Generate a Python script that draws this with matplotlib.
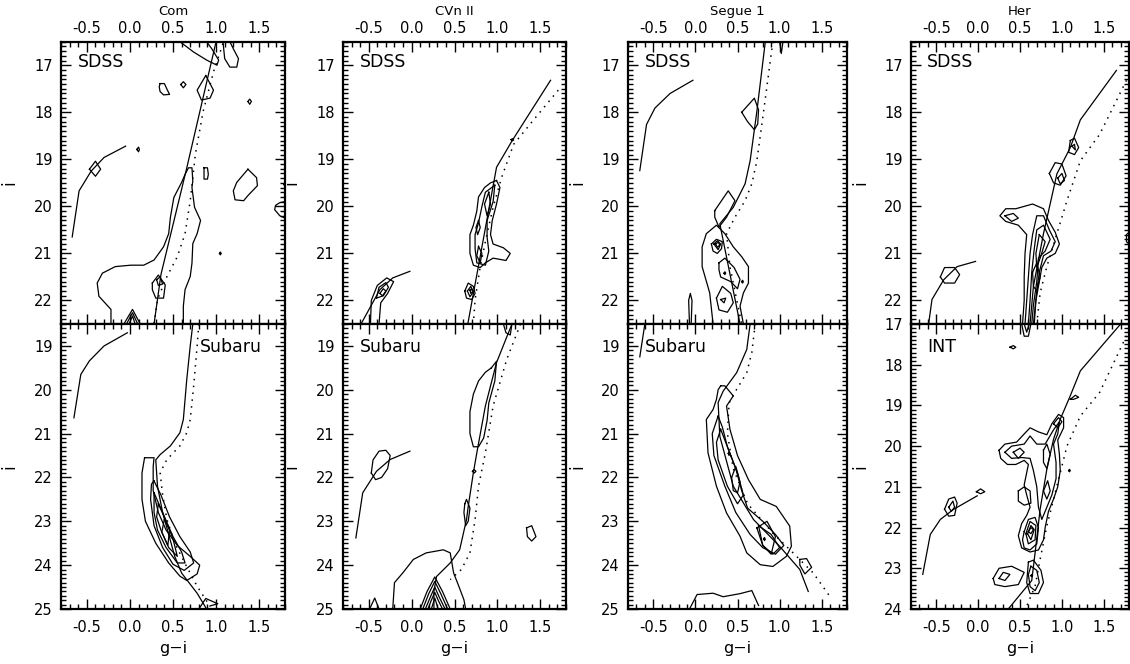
import matplotlib
matplotlib.use("Agg")
import matplotlib.pyplot as plt
from matplotlib.ticker import MultipleLocator, FormatStrFormatter

# ---------------------------------------------------------------- data
objects = ["Com", "CVn II", "Segue 1", "Her"]
top_labels = ["SDSS", "SDSS", "SDSS", "SDSS"]
bottom_labels = ["Subaru", "Subaru", "Subaru", "INT"]
x_range = (-0.8, 1.8)
top_y_range = (22.5, 16.5)
bottom_y_ranges = [(25.0, 18.5), (25.0, 18.5), (25.0, 18.5), (24.0, 17.0)]

# ---- Com, SDSS
com_sdss_solid_x = [1.00, 0.66, 0.36, 0.28]
com_sdss_solid_y = [16.5, 19.18, 21.45, 22.5]
com_sdss_dot_x = [1.08, 0.97, 0.85, 0.76, 0.70, 0.64, 0.55, 0.43, 0.32, 0.28]
com_sdss_dot_y = [16.54, 17.14, 17.98, 18.89, 19.88, 20.58, 21.07, 21.49, 21.98, 22.5]
com_sdss_hb_x = [-0.05, -0.30, -0.45, -0.59, -0.67]
com_sdss_hb_y = [18.72, 18.96, 19.25, 19.67, 20.65]
com_sdss_closed = [
    [(0.35, 17.39), (0.40, 17.39), (0.43, 17.51), (0.46, 17.62), (0.39, 17.63), (0.35, 17.56), (0.34, 17.46)],
    [(0.59, 17.41), (0.62, 17.35), (0.65, 17.41), (0.62, 17.48)],
    [(0.88, 17.22), (0.97, 17.53), (0.93, 17.70), (0.83, 17.74), (0.78, 17.53)],
    [(1.37, 17.77), (1.39, 17.72), (1.41, 17.77), (1.39, 17.83)],
    [(0.08, 18.79), (0.10, 18.74), (0.11, 18.79), (0.10, 18.84)],
    [(-0.47, 19.21), (-0.40, 19.04), (-0.34, 19.21), (-0.40, 19.36)],
    [(0.86, 19.18), (0.90, 19.18), (0.91, 19.32), (0.90, 19.42), (0.86, 19.42)],
    [(1.37, 19.21), (1.47, 19.39), (1.48, 19.56), (1.37, 19.77), (1.32, 19.88), (1.22, 19.86), (1.20, 19.67), (1.24, 19.49)],
    [(1.04, 21.0), (1.05, 20.97), (1.06, 21.0), (1.05, 21.03)],
    [(0.26, 21.63), (0.33, 21.46), (0.41, 21.67), (0.39, 21.95), (0.30, 21.95), (0.26, 21.77)],
    [(0.31, 21.56), (0.35, 21.50), (0.38, 21.65), (0.33, 21.68)],
]
com_sdss_open = [
    [(0.58, 16.5), (0.74, 16.72), (0.89, 16.89), (1.01, 17.0), (1.03, 16.89), (0.95, 16.65), (0.89, 16.5)],
    [(1.08, 16.5), (1.10, 16.86), (1.16, 17.04), (1.24, 17.04), (1.26, 16.86), (1.20, 16.65), (1.16, 16.5)],
    [(1.8, 19.9), (1.74, 19.92), (1.69, 19.98), (1.68, 20.07), (1.74, 20.2), (1.8, 20.25)],
    [(-0.22, 22.5), (-0.22, 22.19), (-0.36, 21.91), (-0.38, 21.63), (-0.32, 21.42), (-0.17, 21.28), (0.01, 21.25),
     (0.16, 21.25), (0.28, 21.14), (0.39, 20.86), (0.45, 20.58), (0.47, 20.23), (0.51, 19.81), (0.60, 19.49),
     (0.64, 19.32), (0.68, 19.18), (0.72, 19.18), (0.73, 19.46), (0.72, 19.60), (0.75, 20.02), (0.82, 20.30),
     (0.78, 20.58), (0.73, 20.79), (0.72, 21.21), (0.70, 21.49), (0.64, 21.77), (0.62, 22.12), (0.62, 22.5)],
    [(-0.07, 22.5), (0.03, 22.19), (0.12, 22.5)],
    [(-0.04, 22.5), (0.03, 22.26), (0.09, 22.5)],
    [(-0.01, 22.5), (0.03, 22.33), (0.06, 22.5)],
]

# ---- Com, Subaru
com_sub_solid_x = [0.73, 0.70, 0.66, 0.62, 0.58, 0.47, 0.35, 0.30, 0.32, 0.38, 0.45, 0.52, 0.60, 0.78, 0.89]
com_sub_solid_y = [18.5, 19.0, 19.76, 20.68, 20.98, 21.28, 21.48, 21.6, 22.2, 22.8, 23.3, 23.8, 24.18, 24.64, 25.0]
com_sub_dot_x = [0.80, 0.78, 0.74, 0.70, 0.66, 0.58, 0.43, 0.35, 0.38, 0.43, 0.52, 0.65, 0.78, 0.93]
com_sub_dot_y = [18.5, 19.0, 19.91, 20.68, 20.98, 21.28, 21.59, 21.89, 22.4, 22.96, 23.5, 24.0, 24.48, 24.94]
com_sub_hb_x = [-0.03, -0.30, -0.47, -0.57, -0.65]
com_sub_hb_y = [18.7, 19.0, 19.34, 19.65, 20.64]
com_sub_closed = [
    [(0.17, 21.55), (0.28, 21.55), (0.27, 21.75), (0.27, 22.3), (0.33, 22.8), (0.42, 23.2), (0.55, 23.55),
     (0.70, 23.8), (0.81, 24.0), (0.78, 24.2), (0.66, 24.35), (0.58, 24.25), (0.45, 23.95), (0.30, 23.5),
     (0.18, 23.0), (0.14, 22.5), (0.14, 21.9)],
    [(0.28, 22.08), (0.36, 22.4), (0.46, 22.9), (0.58, 23.35), (0.70, 23.7), (0.74, 23.95), (0.63, 24.12),
     (0.50, 23.98), (0.38, 23.6), (0.28, 23.1), (0.24, 22.5), (0.25, 22.15)],
    [(0.28, 22.35), (0.38, 22.8), (0.50, 23.35), (0.60, 23.7), (0.64, 23.95), (0.55, 23.95), (0.42, 23.6),
     (0.32, 23.2), (0.28, 22.8)],
    [(0.33, 22.6), (0.42, 23.0), (0.50, 23.4), (0.55, 23.8), (0.45, 23.6), (0.36, 23.2), (0.31, 22.9)],
    [(0.40, 22.95), (0.46, 23.2), (0.44, 23.55), (0.37, 23.25)],
]
com_sub_open = [
    [(0.80, 25.0), (0.88, 24.76), (1.02, 24.88), (0.93, 24.93)],
]

# ---- CVn II, SDSS
cvn_sdss_solid_x = [1.62, 1.17, 0.99, 0.655]
cvn_sdss_solid_y = [17.32, 18.61, 19.17, 22.5]
cvn_sdss_dot_x = [1.71, 1.45, 1.19, 1.05, 0.95, 0.88, 0.80, 0.74, 0.72]
cvn_sdss_dot_y = [17.53, 18.1, 18.68, 19.38, 20.02, 20.58, 21.28, 21.98, 22.5]
cvn_sdss_hb_x = [-0.59, -0.37, -0.22, -0.02]
cvn_sdss_hb_y = [22.5, 21.77, 21.52, 21.38]
cvn_sdss_closed = [
    [(0.99, 19.45), (1.03, 19.6), (0.99, 19.95), (0.94, 20.3), (0.92, 20.6), (0.95, 20.8), (1.07, 20.88),
     (1.15, 21.0), (1.10, 21.15), (0.95, 21.1), (0.86, 21.2), (0.80, 21.3), (0.72, 21.25), (0.68, 21.0),
     (0.68, 20.6), (0.72, 20.4), (0.76, 20.1), (0.78, 19.8), (0.85, 19.6), (0.92, 19.5)],
    [(0.97, 19.55), (0.95, 19.9), (0.88, 20.3), (0.88, 20.65), (0.90, 20.95), (0.86, 21.25), (0.76, 21.2),
     (0.74, 20.9), (0.74, 20.6), (0.78, 20.35), (0.82, 20.0), (0.86, 19.7)],
    [(0.90, 19.7), (0.92, 19.95), (0.88, 20.2), (0.85, 19.95)],
    [(0.78, 20.85), (0.82, 21.0), (0.80, 21.2), (0.76, 21.05)],
    [(0.78, 20.3), (0.80, 20.45), (0.77, 20.6), (0.75, 20.45)],
    [(1.16, 18.58), (1.18, 18.56), (1.19, 18.59), (1.17, 18.61)],
    [(0.62, 21.8), (0.66, 21.63), (0.72, 21.7), (0.74, 21.85), (0.70, 21.98), (0.64, 21.95)],
    [(0.65, 21.8), (0.69, 21.7), (0.72, 21.82), (0.68, 21.92)],
    [(0.68, 21.78), (0.70, 21.75), (0.71, 21.82), (0.69, 21.85)],
    [(-0.41, 21.95), (-0.38, 21.72), (-0.30, 21.62), (-0.27, 21.72), (-0.33, 21.9)],
    [(-0.37, 21.85), (-0.33, 21.75), (-0.30, 21.8), (-0.34, 21.9)],
]
cvn_sdss_open = [
    [(-0.48, 22.5), (-0.47, 22.0), (-0.40, 21.68), (-0.29, 21.52), (-0.21, 21.6), (-0.28, 21.85),
     (-0.36, 22.05), (-0.38, 22.5)],
]

# ---- CVn II, Subaru
cvn_sub_solid_x = [1.17, 0.99, 0.86, 0.76, 0.72, 0.66, 0.64, 0.56, 0.45, 0.29, 0.26, 0.26]
cvn_sub_solid_y = [18.5, 19.38, 20.37, 21.44, 21.89, 22.66, 22.96, 23.65, 23.95, 24.26, 24.6, 25.0]
cvn_sub_dot_x = [1.27, 1.11, 0.95, 0.86, 0.78, 0.74, 0.68, 0.58, 0.45]
cvn_sub_dot_y = [18.5, 19.3, 20.37, 21.44, 22.2, 22.96, 23.72, 24.1, 24.33]
cvn_sub_hb_x = [-0.65, -0.57, -0.41, -0.25, -0.02]
cvn_sub_hb_y = [23.38, 22.35, 21.86, 21.59, 21.4]
cvn_sub_closed = [
    [(0.93, 19.5), (0.99, 19.35), (0.97, 19.8), (0.90, 20.3), (0.88, 20.7), (0.84, 21.1), (0.78, 21.3),
     (0.72, 21.3), (0.68, 21.0), (0.68, 20.5), (0.72, 20.1), (0.78, 19.8), (0.86, 19.6)],
    [(0.71, 21.86), (0.73, 21.82), (0.75, 21.86), (0.73, 21.9)],
    [(0.62, 22.6), (0.64, 22.5), (0.68, 22.7), (0.66, 23.0), (0.63, 23.1), (0.61, 22.8)],
    [(-0.47, 21.9), (-0.45, 21.6), (-0.38, 21.4), (-0.30, 21.38), (-0.25, 21.5), (-0.28, 21.8), (-0.35, 22.0),
     (-0.42, 22.05)],
    [(1.34, 23.15), (1.40, 23.1), (1.45, 23.35), (1.40, 23.45), (1.35, 23.35)],
]
cvn_sub_open = [
    [(1.07, 18.5), (1.10, 18.7), (1.15, 18.75), (1.17, 18.5)],
    [(-0.49, 25.0), (-0.43, 24.75), (-0.38, 25.0)],
    [(-0.22, 25.0), (-0.20, 24.4), (-0.10, 24.17), (0.02, 23.87), (0.17, 23.72), (0.37, 23.65), (0.45, 23.72),
     (0.49, 24.18), (0.55, 24.48), (0.61, 24.79), (0.63, 25.0)],
    [(0.10, 25.0), (0.18, 24.6), (0.27, 24.27), (0.36, 24.6), (0.45, 25.0)],
    [(0.13, 25.0), (0.20, 24.65), (0.27, 24.37), (0.34, 24.65), (0.42, 25.0)],
    [(0.16, 25.0), (0.22, 24.72), (0.27, 24.5), (0.32, 24.72), (0.39, 25.0)],
    [(0.19, 25.0), (0.23, 24.8), (0.27, 24.62), (0.31, 24.8), (0.36, 25.0)],
    [(0.23, 25.0), (0.27, 24.75), (0.31, 25.0)],
]

# ---- Segue 1, SDSS
seg_sdss_solid_x = [0.83, 0.73, 0.65, 0.59, 0.45, 0.29, 0.53]
seg_sdss_solid_y = [16.5, 17.98, 19.03, 19.52, 20.02, 20.37, 22.5]
seg_sdss_dot_x = [0.92, 0.81, 0.73, 0.67, 0.59, 0.47, 0.37, 0.41, 0.49, 0.55]
seg_sdss_dot_y = [16.5, 17.98, 19.03, 19.52, 19.88, 20.23, 20.58, 21.28, 21.98, 22.5]
seg_sdss_hb_x = [-0.03, -0.30, -0.48, -0.58, -0.66]
seg_sdss_hb_y = [17.32, 17.6, 17.91, 18.26, 19.24]
seg_sdss_closed = [
    [(0.55, 18.0), (0.70, 17.7), (0.75, 17.95), (0.74, 18.25), (0.70, 18.37), (0.62, 18.2)],
    [(0.23, 20.09), (0.39, 19.67), (0.47, 19.88), (0.37, 20.23), (0.28, 20.44), (0.23, 20.23)],
    [(0.19, 20.8), (0.25, 20.7), (0.32, 20.75), (0.31, 20.9), (0.26, 21.0), (0.21, 20.95)],
    [(0.22, 20.8), (0.26, 20.73), (0.30, 20.8), (0.27, 20.92)],
    [(0.24, 20.8), (0.27, 20.76), (0.29, 20.82), (0.26, 20.87)],
    [(0.28, 21.2), (0.35, 21.1), (0.46, 21.3), (0.53, 21.55), (0.50, 21.75), (0.42, 21.6), (0.30, 21.5),
     (0.28, 21.35)],
    [(0.25, 21.95), (0.32, 21.7), (0.42, 21.85), (0.45, 22.05), (0.38, 22.25), (0.28, 22.2)],
    [(0.30, 21.98), (0.36, 21.95), (0.34, 22.05)],
    [(0.34, 21.42), (0.35, 21.39), (0.36, 21.42), (0.35, 21.45)],
    [(0.55, 21.6), (0.56, 21.57), (0.57, 21.6), (0.56, 21.63)],
]
seg_sdss_open = [
    [(1.00, 16.5), (1.02, 16.75), (1.04, 16.5)],
    [(0.21, 22.5), (0.17, 21.84), (0.08, 21.28), (0.08, 20.86), (0.13, 20.58), (0.25, 20.40), (0.35, 20.58),
     (0.45, 20.86), (0.55, 21.07), (0.63, 21.28), (0.63, 21.63), (0.57, 21.84), (0.53, 22.12), (0.57, 22.5)],
    [(-0.07, 22.5), (-0.08, 22.0), (-0.06, 21.85), (-0.04, 22.0), (-0.05, 22.5)],
]

# ---- Segue 1, Subaru
seg_sub_solid_x = [0.65, 0.61, 0.49, 0.33, 0.27, 0.29, 0.45, 0.69, 1.00, 1.24, 1.34]
seg_sub_solid_y = [18.5, 19.08, 19.61, 20.03, 20.29, 21.06, 22.2, 22.96, 23.57, 24.1, 24.6]
seg_sub_dot_x = [0.71, 0.67, 0.61, 0.49, 0.40, 0.38, 0.45, 0.62, 0.92, 1.16, 1.40, 1.61]
seg_sub_dot_y = [18.5, 19.15, 19.61, 19.99, 20.3, 21.0, 21.8, 22.6, 23.27, 23.72, 24.18, 24.75]
seg_sub_hb_x = [-0.60, -0.66]
seg_sub_hb_y = [18.5, 19.25]
seg_sub_closed = [
    [(0.30, 19.91), (0.35, 19.91), (0.45, 20.14), (0.37, 20.37), (0.41, 20.9), (0.50, 21.5), (0.63, 22.05),
     (0.77, 22.5), (0.96, 22.66), (1.12, 23.11), (1.14, 23.57), (1.08, 23.8), (0.92, 24.03), (0.77, 23.99),
     (0.61, 23.72), (0.53, 23.34), (0.37, 22.81), (0.25, 22.2), (0.15, 21.44), (0.13, 20.68), (0.21, 20.45),
     (0.25, 20.22), (0.27, 20.0)],
    [(0.27, 20.6), (0.32, 20.85), (0.38, 21.3), (0.48, 21.8), (0.55, 22.3), (0.62, 22.7), (0.80, 23.0),
     (0.95, 23.3), (1.05, 23.55), (0.95, 23.75), (0.80, 23.6), (0.65, 23.3), (0.48, 22.8), (0.35, 22.2),
     (0.22, 21.5), (0.20, 21.0)],
    [(0.30, 20.9), (0.40, 21.4), (0.50, 21.9), (0.57, 22.4), (0.50, 22.6), (0.38, 22.2), (0.27, 21.6),
     (0.25, 21.2)],
    [(0.75, 23.1), (0.90, 23.3), (1.00, 23.6), (0.92, 23.75), (0.80, 23.55)],
    [(0.43, 22.0), (0.48, 21.75), (0.53, 22.1), (0.50, 22.35), (0.45, 22.3)],
    [(0.73, 23.15), (0.85, 23.0), (0.95, 23.35), (0.90, 23.75), (0.80, 23.55)],
    [(0.39, 21.45), (0.40, 21.42), (0.41, 21.46), (0.40, 21.5)],
    [(0.81, 23.4), (0.82, 23.37), (0.83, 23.41), (0.82, 23.44)],
    [(1.24, 23.87), (1.32, 23.85), (1.38, 24.05), (1.30, 24.2), (1.24, 24.0)],
]
seg_sub_open = [
    [(-0.07, 25.0), (0.02, 24.67), (0.21, 24.64), (0.33, 24.72), (0.53, 24.65), (0.67, 24.58), (0.75, 24.92)],
]

# ---- Her, SDSS
her_sdss_solid_x = [1.65, 1.22, 1.10, 0.94, 0.78, 0.66, 0.62]
her_sdss_solid_y = [17.11, 18.16, 18.75, 19.31, 20.58, 21.7, 22.5]
her_sdss_dot_x = [1.77, 1.45, 1.22, 1.06, 0.94, 0.82, 0.74, 0.70]
her_sdss_dot_y = [17.32, 18.47, 19.03, 19.88, 20.58, 21.28, 21.84, 22.5]
her_sdss_hb_x = [-0.59, -0.55, -0.41, -0.25, -0.03]
her_sdss_hb_y = [22.5, 21.98, 21.56, 21.28, 21.17]
her_sdss_closed = [
    [(1.10, 18.6), (1.15, 18.55), (1.20, 18.75), (1.15, 18.9), (1.08, 18.85)],
    [(1.12, 18.72), (1.15, 18.68), (1.16, 18.8)],
    [(0.85, 19.3), (0.92, 19.07), (1.00, 19.1), (1.05, 19.35), (0.98, 19.55), (0.90, 19.5)],
    [(0.95, 19.4), (1.00, 19.3), (1.03, 19.45), (0.98, 19.52)],
    [(0.32, 20.2), (0.42, 20.15), (0.48, 20.25), (0.40, 20.32)],
    [(0.73, 20.6), (0.80, 20.75), (0.75, 21.05), (0.70, 21.3), (0.69, 21.0)],
    [(0.65, 21.4), (0.70, 21.2), (0.74, 21.5), (0.70, 21.8), (0.66, 21.7)],
    [(-0.45, 21.5), (-0.40, 21.3), (-0.28, 21.3), (-0.22, 21.45), (-0.28, 21.63), (-0.40, 21.63)],
]
her_sdss_open = [
    [(0.53, 22.5), (0.55, 22.0), (0.55, 21.5), (0.56, 21.0), (0.58, 20.6), (0.48, 20.4), (0.33, 20.32),
     (0.26, 20.2), (0.33, 20.05), (0.45, 20.05), (0.55, 20.0), (0.65, 19.95), (0.78, 20.05), (0.84, 20.3),
     (0.92, 20.55), (0.97, 20.8), (0.92, 21.0), (0.82, 21.1), (0.76, 21.3), (0.72, 21.7), (0.69, 22.0),
     (0.67, 22.5)],
    [(0.56, 22.5), (0.58, 22.0), (0.60, 21.5), (0.62, 21.0), (0.65, 20.6), (0.70, 20.2), (0.78, 20.2),
     (0.85, 20.5), (0.92, 20.75), (0.87, 20.95), (0.78, 21.05), (0.73, 21.4), (0.70, 21.8), (0.66, 22.5)],
    [(0.60, 22.5), (0.62, 22.0), (0.64, 21.4), (0.67, 20.9), (0.70, 20.5), (0.78, 20.4), (0.86, 20.7),
     (0.80, 20.95), (0.72, 21.1), (0.70, 21.6), (0.66, 22.1), (0.64, 22.5)],
    [(1.8, 20.55), (1.77, 20.6), (1.77, 20.75), (1.8, 20.8)],
]

# ---- Her, INT
her_int_solid_x = [1.70, 1.65, 1.22, 1.10, 0.98, 0.90, 0.82, 0.74, 0.68, 0.64, 0.52, 0.36]
her_int_solid_y = [17.0, 17.12, 18.15, 18.76, 19.34, 19.83, 20.57, 21.55, 22.62, 23.3, 23.6, 24.0]
her_int_dot_x = [1.77, 1.45, 1.22, 1.06, 0.94, 0.82, 0.74, 0.68, 0.58]
her_int_dot_y = [17.29, 18.68, 19.26, 20.0, 20.98, 21.96, 22.78, 23.44, 23.93]
her_int_hb_x = [-0.66, -0.57, -0.45, -0.29, -0.01]
her_int_hb_y = [23.15, 22.17, 21.8, 21.55, 21.22]
her_int_closed = [
    [(0.38, 17.57), (0.42, 17.53), (0.45, 17.57), (0.42, 17.61)],
    [(1.10, 18.85), (1.16, 18.75), (1.20, 18.8), (1.14, 18.85)],
    [(1.08, 20.6), (1.09, 20.57), (1.10, 20.6), (1.09, 20.63)],
    [(0.25, 20.1), (0.32, 19.95), (0.46, 19.9), (0.55, 19.7), (0.62, 19.55), (0.72, 19.65), (0.82, 19.72),
     (0.88, 19.45), (0.96, 19.22), (1.02, 19.3), (1.02, 19.55), (0.95, 19.85), (0.97, 20.2), (0.98, 20.6),
     (0.95, 21.0), (0.90, 21.3), (0.84, 21.6), (0.80, 22.0), (0.78, 22.3), (0.72, 22.55), (0.62, 22.6),
     (0.52, 22.5), (0.48, 22.2), (0.52, 21.9), (0.58, 21.7), (0.62, 21.5), (0.58, 21.2), (0.55, 20.95),
     (0.58, 20.65), (0.60, 20.45), (0.55, 20.35), (0.45, 20.45), (0.35, 20.45), (0.27, 20.3)],
    [(0.32, 20.15), (0.40, 20.0), (0.55, 19.95), (0.62, 19.75), (0.70, 19.95), (0.80, 19.95), (0.90, 19.6),
     (0.97, 19.4), (0.95, 19.7), (0.90, 19.95), (0.93, 20.4), (0.93, 20.8), (0.88, 21.2), (0.82, 21.5),
     (0.76, 21.8), (0.72, 21.5), (0.70, 21.0), (0.66, 20.6), (0.62, 20.3), (0.52, 20.28), (0.40, 20.3)],
    [(0.42, 20.15), (0.50, 20.05), (0.55, 20.15), (0.48, 20.3)],
    [(0.78, 20.1), (0.82, 19.95), (0.86, 20.2), (0.82, 20.55), (0.78, 20.4)],
    [(0.78, 21.1), (0.83, 20.85), (0.86, 21.1), (0.82, 21.3)],
    [(0.90, 19.45), (0.96, 19.3), (1.00, 19.4), (0.95, 19.55)],
    [(0.48, 21.1), (0.55, 21.0), (0.62, 21.1), (0.63, 21.4), (0.55, 21.45), (0.48, 21.35)],
    [(0.55, 22.1), (0.60, 21.8), (0.68, 21.75), (0.72, 22.0), (0.70, 22.4), (0.62, 22.55), (0.55, 22.5),
     (0.53, 22.3)],
    [(0.57, 22.15), (0.62, 21.85), (0.69, 21.95), (0.68, 22.3), (0.60, 22.4)],
    [(0.59, 22.15), (0.63, 21.95), (0.67, 22.05), (0.63, 22.3)],
    [(0.60, 22.1), (0.63, 22.0), (0.66, 22.05), (0.63, 22.15)],
    [(0.18, 23.25), (0.25, 23.0), (0.40, 22.95), (0.50, 23.05), (0.55, 23.1), (0.48, 23.4), (0.32, 23.45),
     (0.20, 23.4)],
    [(0.25, 23.25), (0.30, 23.1), (0.38, 23.15), (0.32, 23.3)],
    [(0.60, 22.85), (0.66, 22.8), (0.75, 23.05), (0.78, 23.35), (0.72, 23.62), (0.62, 23.62), (0.58, 23.35)],
    [(0.63, 22.95), (0.70, 23.05), (0.73, 23.35), (0.68, 23.55), (0.62, 23.45), (0.60, 23.15)],
    [(0.63, 23.18), (0.64, 23.15), (0.65, 23.18), (0.64, 23.21)],
    [(-0.40, 21.55), (-0.35, 21.3), (-0.28, 21.25), (-0.25, 21.4), (-0.28, 21.7), (-0.35, 21.72)],
    [(-0.35, 21.5), (-0.30, 21.35), (-0.28, 21.5), (-0.32, 21.6)],
    [(-0.02, 21.12), (0.03, 21.05), (0.08, 21.12), (0.03, 21.17)],
]
her_int_open = [
    [(0.52, 17.0), (0.55, 17.3), (0.60, 17.3), (0.63, 17.0)],
    [(0.55, 17.0), (0.58, 17.2), (0.61, 17.0)],
]

# ---------------------------------------------------------------- figure
plt.rcParams["font.family"] = ["DejaVu Sans"]
fig = plt.figure(figsize=(11.3, 6.64), dpi=100)

col_left = [61, 343, 628, 911]
col_width = [224, 223, 219, 218]
W, H = 1130.0, 664.0
top_row = (41.7, 324.0)
bot_row = (324.0, 609.0)

panels_top = [
    (com_sdss_solid_x, com_sdss_solid_y, com_sdss_dot_x, com_sdss_dot_y, com_sdss_hb_x, com_sdss_hb_y,
     com_sdss_closed, com_sdss_open),
    (cvn_sdss_solid_x, cvn_sdss_solid_y, cvn_sdss_dot_x, cvn_sdss_dot_y, cvn_sdss_hb_x, cvn_sdss_hb_y,
     cvn_sdss_closed, cvn_sdss_open),
    (seg_sdss_solid_x, seg_sdss_solid_y, seg_sdss_dot_x, seg_sdss_dot_y, seg_sdss_hb_x, seg_sdss_hb_y,
     seg_sdss_closed, seg_sdss_open),
    (her_sdss_solid_x, her_sdss_solid_y, her_sdss_dot_x, her_sdss_dot_y, her_sdss_hb_x, her_sdss_hb_y,
     her_sdss_closed, her_sdss_open),
]
panels_bot = [
    (com_sub_solid_x, com_sub_solid_y, com_sub_dot_x, com_sub_dot_y, com_sub_hb_x, com_sub_hb_y,
     com_sub_closed, com_sub_open),
    (cvn_sub_solid_x, cvn_sub_solid_y, cvn_sub_dot_x, cvn_sub_dot_y, cvn_sub_hb_x, cvn_sub_hb_y,
     cvn_sub_closed, cvn_sub_open),
    (seg_sub_solid_x, seg_sub_solid_y, seg_sub_dot_x, seg_sub_dot_y, seg_sub_hb_x, seg_sub_hb_y,
     seg_sub_closed, seg_sub_open),
    (her_int_solid_x, her_int_solid_y, her_int_dot_x, her_int_dot_y, her_int_hb_x, her_int_hb_y,
     her_int_closed, her_int_open),
]

LW = 0.9


def draw_panel(ax, spec):
    sx, sy, dx, dy, hx, hy, closed, opened = spec
    ax.plot(sx, sy, color="k", lw=LW)
    ax.plot(dx, dy, color="k", lw=1.1, linestyle=(0, (1.0, 3.5)))
    ax.plot(hx, hy, color="k", lw=LW)
    for c in closed:
        xs = [p[0] for p in c] + [c[0][0]]
        ys = [p[1] for p in c] + [c[0][1]]
        ax.plot(xs, ys, color="k", lw=LW)
    for c in opened:
        ax.plot([p[0] for p in c], [p[1] for p in c], color="k", lw=LW)


def style_axes(ax, top):
    ax.set_xlim(*x_range)
    ax.xaxis.set_major_locator(MultipleLocator(0.5))
    ax.xaxis.set_minor_locator(MultipleLocator(0.1))
    ax.yaxis.set_major_locator(MultipleLocator(1.0))
    ax.yaxis.set_minor_locator(MultipleLocator(0.1))
    ax.xaxis.set_major_formatter(FormatStrFormatter("%.1f"))
    ax.yaxis.set_major_formatter(FormatStrFormatter("%d"))
    ax.tick_params(which="both", direction="in", top=True, right=True, width=1.0, labelsize=10.5)
    ax.tick_params(which="major", length=7)
    ax.tick_params(which="minor", length=3.5)
    ax.tick_params(axis="y", pad=6)
    if top:
        ax.tick_params(axis="x", labeltop=True, labelbottom=False, pad=4)
    else:
        ax.tick_params(axis="x", labeltop=False, labelbottom=True, pad=8)
    for s in ax.spines.values():
        s.set_linewidth(1.6)
    ax.set_ylabel("i", fontsize=12)
    ax.yaxis.set_label_coords(-0.19, 0.5)


for j in range(4):
    l = col_left[j] / W
    w = col_width[j] / W
    # top row
    axt = fig.add_axes([l, 1 - top_row[1] / H, w, (top_row[1] - top_row[0]) / H])
    draw_panel(axt, panels_top[j])
    axt.set_ylim(*top_y_range)
    style_axes(axt, True)
    axt.text(0.5, 1.095, objects[j], transform=axt.transAxes, ha="center", va="baseline", fontsize=9.5)
    axt.text(0.075, 0.928, top_labels[j], transform=axt.transAxes, ha="left", va="center", fontsize=12.5)
    # bottom row
    axb = fig.add_axes([l, 1 - bot_row[1] / H, w, (bot_row[1] - bot_row[0]) / H])
    draw_panel(axb, panels_bot[j])
    axb.set_ylim(*bottom_y_ranges[j])
    style_axes(axb, False)
    axb.set_xlabel("g\u2212i", fontsize=11.5, labelpad=4)
    if j == 0:
        axb.text(0.62, 0.92, bottom_labels[j], transform=axb.transAxes, ha="left", va="center", fontsize=12.5)
    else:
        axb.text(0.075, 0.92, bottom_labels[j], transform=axb.transAxes, ha="left", va="center", fontsize=12.5)

fig.savefig("out.png", dpi=100)
